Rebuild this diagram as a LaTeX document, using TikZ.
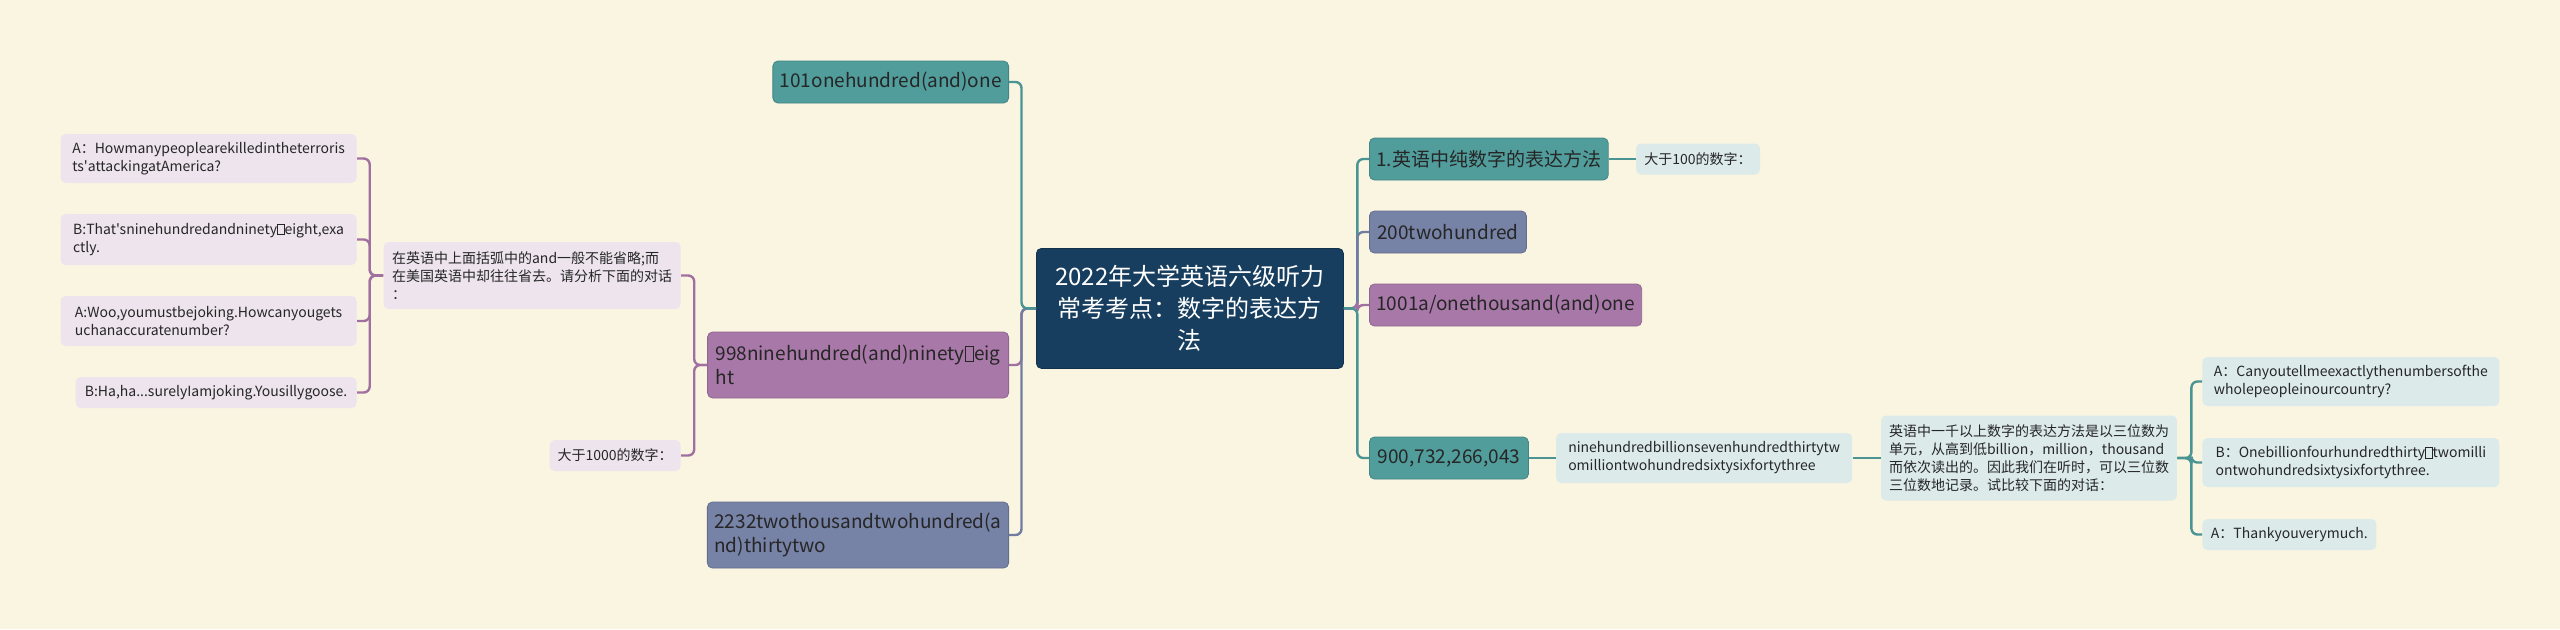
\documentclass[tikz,border=0pt]{standalone}
\usepackage{fontspec}
\newfontfamily\cjkfont{Noto Sans CJK SC}
\usetikzlibrary{positioning}
\definecolor{mapbg}{RGB}{250,245,225}
\definecolor{rootnavy}{RGB}{23,62,94}
\definecolor{mapteal}{RGB}{80,157,156}
\definecolor{mapslate}{RGB}{118,130,166}
\definecolor{mapplum}{RGB}{168,120,168}
\definecolor{leafplum}{RGB}{237,228,238}
\definecolor{leafteal}{RGB}{220,234,234}
\definecolor{tealline}{RGB}{74,148,148}
\definecolor{plumline}{RGB}{160,112,160}
\definecolor{slateline}{RGB}{112,124,160}
\newcommand{\tofu}{{\setlength{\fboxsep}{0pt}\setlength{\fboxrule}{0.4pt}\fbox{\rule{0pt}{0.72em}\hspace{0.42em}}}}

\begin{document}
\begin{tikzpicture}[x=0.5pt, y=-0.5pt,
box/.style={rectangle, rounded corners=2.5pt, inner xsep=3.5pt, inner ysep=2pt, align=left, text=black!85},
rootbox/.style={box, fill=rootnavy, draw=rootnavy!80!black, text=white, align=center, font=\cjkfont\fontsize{12}{16}\selectfont},
topic/.style={box, font=\cjkfont\fontsize{9.5}{12}\selectfont, minimum height=21pt},
tealtopic/.style={topic, fill=mapteal, draw=mapteal!85!black},
slatetopic/.style={topic, fill=mapslate, draw=mapslate!85!black},
plumtopic/.style={topic, fill=mapplum, draw=mapplum!85!black},
leaf/.style={box, font=\cjkfont\fontsize{7}{9}\selectfont},
plumleaf/.style={leaf, fill=leafplum},
tealleaf/.style={leaf, fill=leafteal},
link/.style={line width=1.2pt, rounded corners=3pt}]

\useasboundingbox (0,0) rectangle (2560,629);

\fill[mapbg] (0,0) rectangle (2560,629);

\node[rootbox, minimum width=153.5pt, minimum height=60pt, anchor=north west] (root) at (1036,248) {2022年大学英语六级听力\\常考考点：数字的表达方\\法};

\node[tealtopic, minimum width=117.5pt, anchor=east] (n101) at (1009,82) {101onehundred(and)one};

\node[plumtopic, minimum width=150.5pt, minimum height=33pt, anchor=east] (n998) at (1009,365) {998ninehundred(and)ninety\tofu eig\\ht};

\node[slatetopic, minimum width=150.5pt, minimum height=33pt, anchor=east] (n2232) at (1009,535) {2232twothousandtwohundred(a\\nd)thirtytwo};

\node[tealtopic, minimum width=116.5pt, anchor=west] (n1) at (1369,159) {1.英语中纯数字的表达方法};

\node[slatetopic, minimum width=78.5pt, anchor=west] (n200) at (1369,232) {200twohundred};

\node[plumtopic, minimum width=136pt, anchor=west] (n1001) at (1369,305) {1001a/onethousand(and)one};

\node[tealtopic, minimum width=79.5pt, anchor=west] (n900) at (1369,458) {900,732,266,043};

\node[tealleaf, minimum width=62pt, minimum height=15.5pt, right=13.5pt of n1] (gt100) {大于100的数字：};

\node[tealleaf, minimum width=148pt, minimum height=25pt, right=13.5pt of n900] (nine) {ninehundredbillionsevenhundredthirtytw\\omilliontwohundredsixtysixfortythree};

\node[tealleaf, minimum width=148pt, minimum height=42.5pt, right=14pt of nine] (thou) {英语中一千以上数字的表达方法是以三位数为\\单元，从高到低billion，million，thousand\\而依次读出的。因此我们在听时，可以三位数\\三位数地记录。试比较下面的对话：};

\node[tealleaf, minimum width=148.5pt, minimum height=24.5pt, anchor=west] (ra1) at (2202,381.5) {A：Canyoutellmeexactlythenumbersofthe\\wholepeopleinourcountry?};

\node[tealleaf, minimum width=148.5pt, minimum height=24.5pt, anchor=west] (ra2) at (2202,462.5) {B：Onebillionfourhundredthirty\tofu twomilli\\ontwohundredsixtysixfortythree.};

\node[tealleaf, minimum width=87pt, minimum height=15.5pt, anchor=west] (ra3) at (2202,534.5) {A：Thankyouverymuch.};

\node[plumleaf, minimum width=148.5pt, minimum height=33.5pt, anchor=east] (ask) at (681,275.5) {在英语中上面括弧中的and一般不能省略;而\\在美国英语中却往往省去。请分析下面的对话\\：};

\node[plumleaf, minimum width=65.5pt, minimum height=15.5pt, anchor=east] (gt1000) at (681,455.5) {大于1000的数字：};

\node[plumleaf, minimum width=148pt, minimum height=24.5pt, anchor=east] (qa1) at (357,158.5) {A：Howmanypeoplearekilledintheterroris\\ts'attackingatAmerica?};

\node[plumleaf, minimum width=148pt, minimum height=25.5pt, anchor=east] (qa2) at (357,239.5) {B:That'sninehundredandninety\tofu eight,exa\\ctly.};

\node[plumleaf, minimum width=148pt, minimum height=25pt, anchor=east] (qa3) at (357,321) {A:Woo,youmustbejoking.Howcanyougets\\uchanaccuratenumber?};

\node[plumleaf, minimum width=140.5pt, minimum height=15.5pt, anchor=east] (qa4) at (357,392.5) {B:Ha,ha...surelyIamjoking.Yousillygoose.};

\draw[link, plumline] (root.west) -- ++(-14.5,0) |- (n998.east);

\draw[link, slateline] (root.west) -- ++(-14.5,0) |- (n2232.east);

\draw[link, tealline] (root.west) -- ++(-14.5,0) |- (n101.east);

\draw[link, tealline] (root.east) -- ++(13.5,0) |- (n1.west);

\draw[link, slateline] (root.east) -- ++(13.5,0) |- (n200.west);

\draw[link, plumline] (root.east) -- ++(13.5,0) |- (n1001.west);

\draw[link, tealline] (root.east) -- ++(13.5,0) |- (n900.west);

\draw[link, plumline] (n998.west) -- ++(-13,0) |- (ask.east);

\draw[link, plumline] (n998.west) -- ++(-13,0) |- (gt1000.east);

\foreach \qa in {qa1,qa2,qa3,qa4}
  \draw[link, plumline] (ask.west) -- ++(-13.5,0) |- (\qa.east);

\draw[link, tealline] (n1) -- (gt100);

\draw[link, tealline] (n900) -- (nine);

\draw[link, tealline] (nine) -- (thou);

\foreach \ra in {ra1,ra2,ra3}
  \draw[link, tealline] (thou.east) -- ++(14,0) |- (\ra.west);

\end{tikzpicture}
\end{document}
